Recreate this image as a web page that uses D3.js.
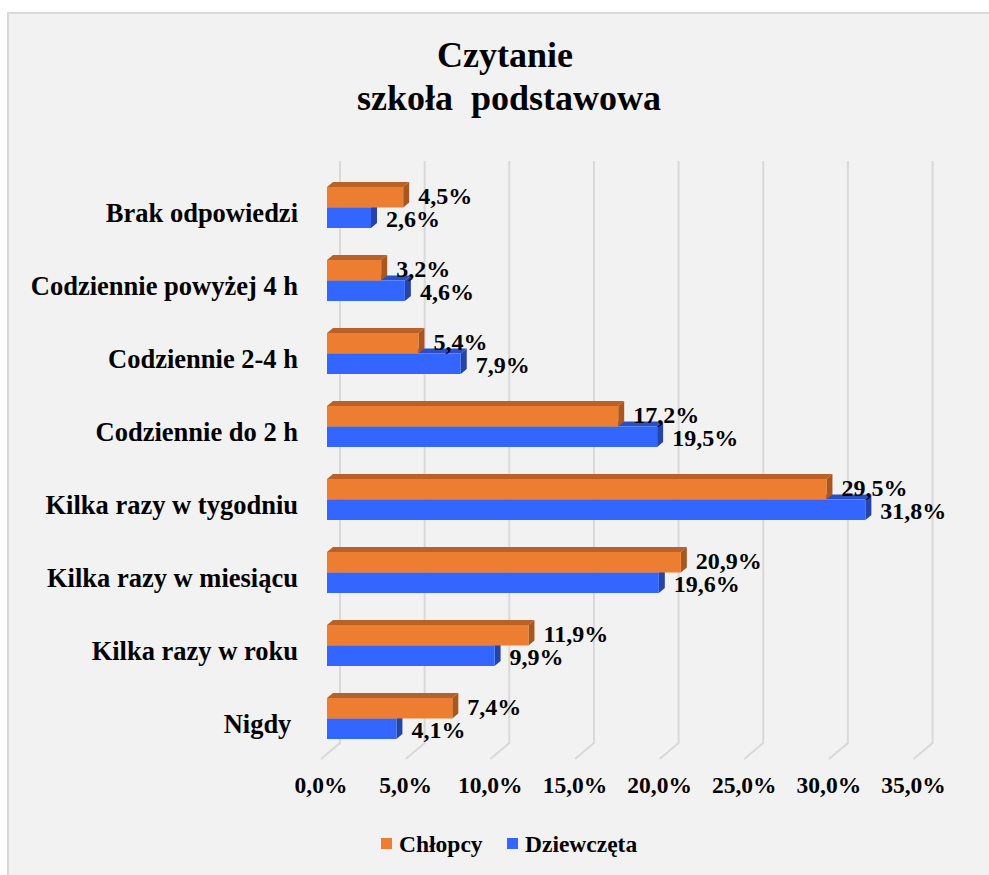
<!DOCTYPE html>
<html>
<head>
<meta charset="utf-8">
<script src="https://cdn.jsdelivr.net/npm/d3@7"></script>
<style>
  body { margin: 0; background: #ffffff; }
  text { font-family: "Liberation Serif", "Times New Roman", serif; font-weight: bold; fill: #000; }
</style>
</head>
<body>
<div id="chart"></div>
<script>
// Data
var categories = ["Brak odpowiedzi", "Codziennie powyżej 4 h", "Codziennie 2-4 h", "Codziennie do 2 h",
  "Kilka razy w tygodniu", "Kilka razy w miesiącu", "Kilka razy w roku", "Nigdy "];
var chlopcy = [4.5, 3.2, 5.4, 17.2, 29.5, 20.9, 11.9, 7.4];
var dziewczeta = [2.6, 4.6, 7.9, 19.5, 31.8, 19.6, 9.9, 4.1];
var ticks = [0, 5, 10, 15, 20, 25, 30, 35];
var seriesNames = ["Chłopcy", "Dziewczęta"];

var svgW = 989, svgH = 875;
var svg = d3.select("#chart").append("svg")
  .attr("width", svgW)
  .attr("height", svgH);

// chart area background + border
svg.append("rect")
  .attr("x", 8).attr("y", 13)
  .attr("width", 1000).attr("height", 1000)
  .attr("fill", "#f2f2f2")
  .attr("stroke", "#d9d9d9")
  .attr("stroke-width", 2);

// title
var title = svg.append("text")
  .attr("text-anchor", "middle")
  .style("font-size", "36px")
  .style("white-space", "pre");
title.append("tspan").attr("x", 505).attr("y", 67).text("Czytanie");
title.append("tspan").attr("x", 509).attr("y", 110).text("szkoła  podstawowa");

// scales
var x = d3.scaleLinear().domain([0, 35]).range([327, 327 + 35 * 16.93]);
var y = d3.scaleBand().domain(categories).range([171, 755])
  .paddingInner(0.4384).paddingOuter(0.2192);
var barH = y.bandwidth() / 2;
var dx = 6, dy = 5; // 3D depth of bars
var fmt = function (v) { return d3.format(".1f")(v).replace(".", ",") + "%"; };

// gridlines (back wall + floor)
var grid = svg.append("g");
grid.selectAll("path")
  .data(ticks)
  .enter()
  .append("path")
  .attr("d", d => {
    var xb = x(d) + 13;
    return `M${xb},161 L${xb},743 L${xb - 19},759`;
  })
  .attr("fill", "none")
  .attr("stroke", "#d9d9d9")
  .attr("stroke-width", 2);

// tick labels
svg.selectAll(".tick-label")
  .data(ticks)
  .enter()
  .append("text")
  .attr("class", "tick-label")
  .attr("x", d => x(d) - 6)
  .attr("y", 793)
  .attr("text-anchor", "middle")
  .style("font-size", "23.5px")
  .text(d => fmt(d));

// category labels
svg.selectAll(".cat-label")
  .data(categories)
  .enter()
  .append("text")
  .attr("class", "cat-label")
  .attr("x", 298)
  .attr("y", d => y(d) + 35)
  .attr("text-anchor", "end")
  .style("font-size", "26.5px")
  .style("white-space", "pre")
  .text(d => d);

// 3D bar drawing
function drawBar(g, v, top, front, topCol, sideCol) {
  var x0 = x(0), x1 = x(v);
  g.append("path")
    .attr("d", `M${x0},${top} L${x0 + dx},${top - dy} L${x1 + dx},${top - dy} L${x1},${top} Z`)
    .attr("fill", topCol);
  g.append("path")
    .attr("d", `M${x1},${top} L${x1 + dx},${top - dy} L${x1 + dx},${top + barH - dy} L${x1},${top + barH} Z`)
    .attr("fill", sideCol);
  g.append("rect")
    .attr("x", x0).attr("y", top)
    .attr("width", x1 - x0).attr("height", barH)
    .attr("fill", front);
}

var bars = svg.append("g");
categories.forEach(function (c, i) {
  var g = bars.append("g");
  var top = y(c);
  drawBar(g, dziewczeta[i], top + barH, "#3366ff", "#2a4fc4", "#2544a8");
  drawBar(g, chlopcy[i], top, "#ed7d31", "#b8622a", "#a9561f");
});

// data labels
var labels = svg.append("g");
categories.forEach(function (c, i) {
  labels.append("text")
    .attr("x", x(chlopcy[i]) + 15)
    .attr("y", y(c) + 17)
    .style("font-size", "24px")
    .text(fmt(chlopcy[i]));
  labels.append("text")
    .attr("x", x(dziewczeta[i]) + 15)
    .attr("y", y(c) + 40)
    .style("font-size", "24px")
    .text(fmt(dziewczeta[i]));
});

// legend
var colors = ["#ed7d31", "#3366ff"];
var legendX = [381, 507];
var legend = svg.selectAll(".legend")
  .data(seriesNames)
  .enter()
  .append("g")
  .attr("class", "legend")
  .attr("transform", (d, i) => `translate(${legendX[i]}, 838)`);
legend.append("rect")
  .attr("width", 11).attr("height", 11)
  .attr("fill", (d, i) => colors[i]);
legend.append("text")
  .attr("x", 18).attr("y", 14)
  .style("font-size", "23.5px")
  .text(d => d);
</script>
</body>
</html>
